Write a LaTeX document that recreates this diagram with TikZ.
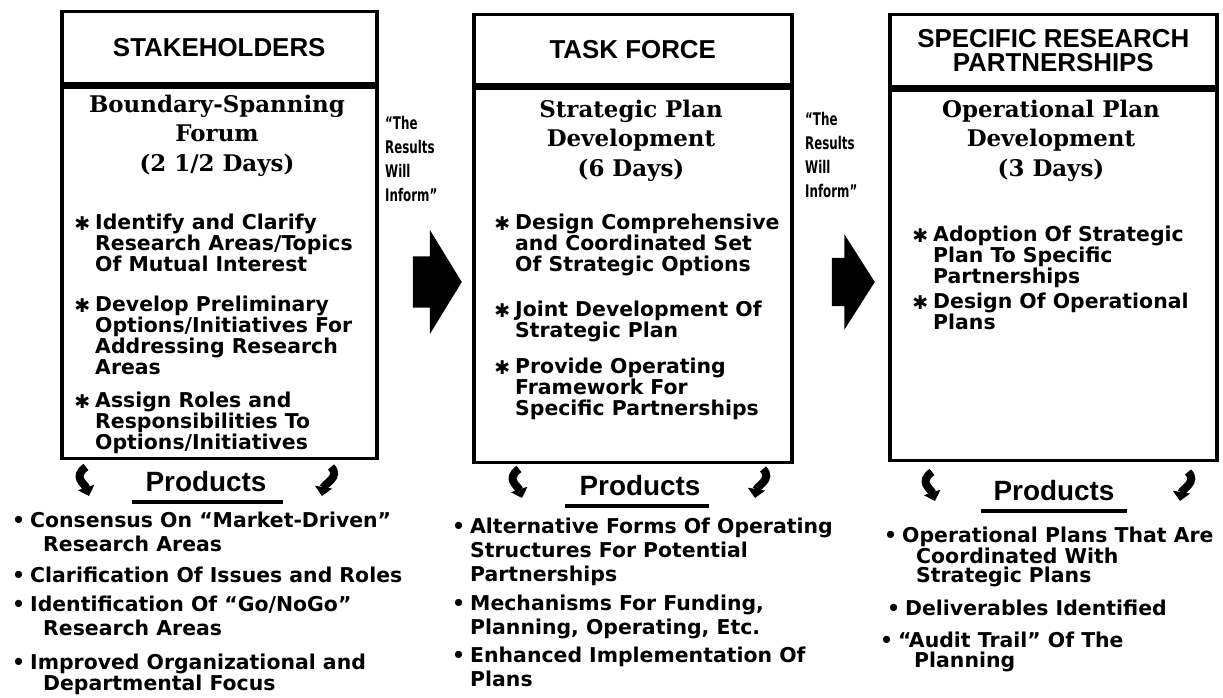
\documentclass[tikz,border=0pt]{standalone}
\usepackage{fontspec}
\setmainfont{Liberation Sans}
\newfontfamily\heavyfont{DejaVu Sans}
\newfontfamily\slabfont{DejaVu Serif}
\newfontfamily\narrowfont{DejaVu Sans}[FakeStretch=0.68]
\usetikzlibrary{shapes.arrows,arrows.meta,positioning}

\newcommand{\boxstar}{\llap{\raisebox{-1bp}{\fontsize{19}{19}\selectfont ✱}\hspace{5bp}}}
\newcommand{\dotitem}{\llap{•\hspace{5bp}}}

\tikzset{
    hdr/.style={draw, line width=3.5bp, anchor=north west, inner sep=0pt, align=center,
        font=\bfseries\fontsize{26}{23.5}\selectfont},
    body/.style={draw, line width=3.5bp, inner sep=0pt},
    plan/.style={anchor=north, align=center, inner sep=0pt,
        font=\slabfont\bfseries\fontsize{23}{29.5}\selectfont},
    task/.style={anchor=north west, align=left, inner sep=0pt,
        font=\heavyfont\bfseries\fontsize{20.5}{21}\selectfont},
    inform/.style={anchor=north west, align=left, inner sep=0pt,
        font=\narrowfont\bfseries\fontsize{17.5}{24}\selectfont},
    bigarrow/.style={single arrow, fill=black, draw=none, inner xsep=0pt, anchor=tip},
    prodhead/.style={inner sep=2bp, font=\bfseries\fontsize{28}{28}\selectfont},
    uline/.style={line width=4bp},
    squig/.style={line width=8bp, -{Triangle[length=9bp,width=17bp]}},
    prod/.style={anchor=north west, align=left, inner sep=0pt,
        font=\heavyfont\bfseries\fontsize{20.5}{24}\selectfont},
    prodtight/.style={prod, font=\heavyfont\bfseries\fontsize{20.5}{19.5}\selectfont}
}

\begin{document}
\begin{tikzpicture}[x=1bp, y=-1bp]
    \path[use as bounding box, fill=white] (0,0) rectangle (1223,698);

    % stakeholders
    \node (stake) [hdr, minimum width=315bp, minimum height=72bp] at (60,10) {STAKEHOLDERS};
    \node (forum) [body, minimum width=315bp, minimum height=371bp, below=0pt of stake] {};
    \node (forumplan) [plan] at (217,95) {Boundary-Spanning\\Forum\\(2 1/2 Days)};
    \node (tA1) [task] at (95,214) {\boxstar Identify and Clarify\\Research Areas/Topics\\Of Mutual Interest};
    \node (tA2) [task] at (95,296) {\boxstar Develop Preliminary\\Options/Initiatives For\\Addressing Research\\Areas};
    \node (tA3) [task] at (95,392) {\boxstar Assign Roles and\\Responsibilities To\\Options/Initiatives};

    % task force
    \node (task) [hdr, minimum width=318bp, minimum height=70bp] at (472,13) {TASK FORCE};
    \node (strat) [body, minimum width=318bp, minimum height=374bp, below=0pt of task] {};
    \node (stratplan) [plan] at (631,100) {Strategic Plan\\Development\\(6 Days)};
    \node (tB1) [task] at (515,214) {\boxstar Design Comprehensive\\and Coordinated Set\\Of Strategic Options};
    \node (tB2) [task] at (515,301) {\boxstar Joint Development Of\\Strategic Plan};
    \node (tB3) [task] at (515,358) {\boxstar Provide Operating\\Framework For\\Specific Partnerships};

    % partnerships
    \node (spec) [hdr, minimum width=327bp, minimum height=72bp] at (888,13) {SPECIFIC RESEARCH\\PARTNERSHIPS};
    \node (oper) [body, minimum width=327bp, minimum height=370bp, below=0pt of spec] {};
    \node (operplan) [plan] at (1051,100) {Operational Plan\\Development\\(3 Days)};
    \node (tC1) [task] at (933,226) {\boxstar Adoption Of Strategic\\Plan To Specific\\Partnerships};
    \node (tC2) [task] at (933,293) {\boxstar Design Of Operational\\Plans};

    % results will inform
    \node (infA) [inform] at (385,116) {“The\\Results\\Will\\Inform”};
    \node (infB) [inform] at (805,112) {“The\\Results\\Will\\Inform”};
    \node (arrA) [bigarrow, minimum height=49bp, inner ysep=25.5bp,
        single arrow head extend=26.5bp, single arrow tip angle=117] at (462,282) {};
    \node (arrB) [bigarrow, minimum height=43bp, inner ysep=24bp,
        single arrow head extend=23.5bp, single arrow tip angle=115] at (875,282) {};

    % products
    \node (prodA) [prodhead] at (206,482) {Products};
    \node (prodB) [prodhead] at (640,486) {Products};
    \node (prodC) [prodhead] at (1054,491) {Products};
    \draw [uline] ([xshift=-11bp,yshift=-8bp]prodA.south west) -- ([xshift=14bp,yshift=-8bp]prodA.south east);
    \draw [uline] ([xshift=-12bp,yshift=-8bp]prodB.south west) -- ([xshift=6bp,yshift=-8bp]prodB.south east);
    \draw [uline] ([xshift=-10bp,yshift=-8bp]prodC.south west) -- ([xshift=10bp,yshift=-8bp]prodC.south east);

    \draw [squig] (86,467) .. controls +(-14,10) and +(-4,-12) .. (89,496);
    \draw [squig] (331,467) .. controls +(10,10) and +(2,-12) .. (322,496);
    \draw [squig] (519,469) .. controls +(-14,10) and +(-4,-12) .. (522,498);
    \draw [squig] (763,469) .. controls +(10,10) and +(2,-12) .. (755,498);
    \draw [squig] (932,472) .. controls +(-14,10) and +(-4,-12) .. (935,501);
    \draw [squig] (1188,472) .. controls +(10,10) and +(2,-12) .. (1180,501);

    \node (pA1) [prod] at (30,512) {\dotitem Consensus On “Market-Driven”\\\hspace*{13bp}Research Areas};
    \node (pA2) [prod] at (30,567) {\dotitem Clarification Of Issues and Roles};
    \node (pA3) [prod] at (30,596) {\dotitem Identification Of “Go/NoGo”\\\hspace*{13bp}Research Areas};
    \node (pA4) [prodtight] at (30,654) {\dotitem Improved Organizational and\\\hspace*{13bp}Departmental Focus};

    \node (pB1) [prod] at (470,518) {\dotitem Alternative Forms Of Operating\\Structures For Potential\\Partnerships};
    \node (pB2) [prod] at (470,595) {\dotitem Mechanisms For Funding,\\Planning, Operating, Etc.};
    \node (pB3) [prod] at (470,647) {\dotitem Enhanced Implementation Of\\Plans};

    \node (pC1) [prodtight] at (902,527) {\dotitem Operational Plans That Are\\\hspace*{14bp}Coordinated With\\\hspace*{14bp}Strategic Plans};
    \node (pC2) [prodtight] at (905,600) {\dotitem Deliverables Identified};
    \node (pC3) [prodtight] at (898,632) {\dotitem “Audit Trail” Of The\\\hspace*{16bp}Planning};
\end{tikzpicture}
\end{document}
